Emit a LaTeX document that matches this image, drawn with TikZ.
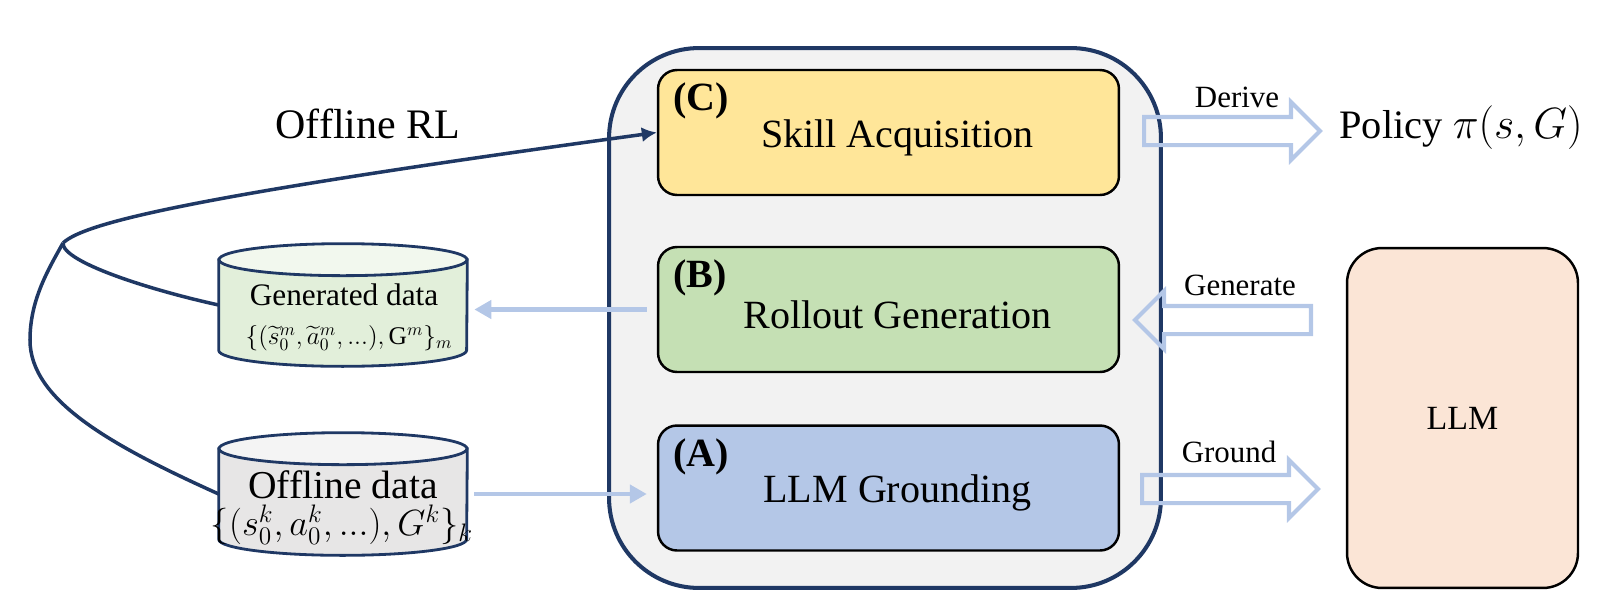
\documentclass[tikz,border=0pt]{standalone}
\usepackage{amsmath}
\usepackage{fontspec}
\setmainfont{Liberation Serif}
\usetikzlibrary{shapes.geometric,shapes.arrows,arrows.meta,positioning}

\definecolor{navy}{RGB}{31,56,100}
\definecolor{skillfill}{RGB}{255,230,153}
\definecolor{rolloutfill}{RGB}{197,224,180}
\definecolor{groundfill}{RGB}{180,199,231}
\definecolor{llmfill}{RGB}{251,229,214}
\definecolor{panelfill}{RGB}{242,242,242}
\definecolor{flowblue}{RGB}{180,199,231}
\definecolor{genfill}{RGB}{226,239,218}
\definecolor{offfill}{RGB}{231,230,230}

\begin{document}
\begin{tikzpicture}[
  x=0.02cm, y=-0.02cm,
  panel/.style={rectangle,draw=navy,line width=2.3pt,rounded corners=1.8cm,fill=panelfill,minimum width=11.04cm,minimum height=10.8cm},
  stage/.style={rectangle,draw=black,line width=1.4pt,rounded corners=0.38cm,minimum width=9.22cm,minimum height=2.5cm},
  tag/.style={font=\fontsize{22.8}{26}\selectfont\bfseries,inner sep=0pt},
  title/.style={font=\fontsize{22.8}{26}\selectfont,inner sep=0pt},
  storebox/.style={rectangle,minimum width=4.96cm,minimum height=2.44cm,inner sep=0pt},
  storeline/.style={draw=navy,line width=1.6pt},
  hollow/.style={single arrow,draw=flowblue,line width=2.3pt,minimum height=3.52cm,minimum width=1.08cm,single arrow head extend=0.3cm,single arrow tip angle=90,inner sep=0.24cm},
  flow/.style={draw=flowblue,line width=2.6pt,-{Triangle[length=0.34cm,width=0.36cm]}},
  rl/.style={draw=navy,line width=2pt},
  lbl/.style={font=\fontsize{17.6}{20}\selectfont,inner sep=0pt}
]
\useasboundingbox (0,0) rectangle (1622,602);

% central panel with the three stages
\node[panel] (panel) at (885,318) {};
\node[stage,fill=skillfill] (skill) at (888.5,132.5) {};
\node[stage,fill=rolloutfill] (rollout) at (888.5,309.5) {};
\node[stage,fill=groundfill] (grounding) at (888.5,488) {};
\node[tag, below right=0.28cm and 0.32cm of skill.north west] (tagC) {(C)};
\node[tag, below right=0.28cm and 0.32cm of rollout.north west] (tagB) {(B)};
\node[tag, below right=0.28cm and 0.32cm of grounding.north west] (tagA) {(A)};
\node[title] (skillT) at ([shift={(9,5)}]skill.center) {Skill Acquisition};
\node[title] (rolloutT) at ([shift={(9,5)}]rollout.center) {Rollout Generation};
\node[title] (groundingT) at ([shift={(9,5)}]grounding.center) {LLM Grounding};

% right side
\node[stage,fill=llmfill,rounded corners=0.7cm,minimum width=4.62cm,minimum height=6.8cm,font=\fontsize{19.3}{22}\selectfont] (llm) at (1462.5,418) {LLM};
\node[font=\fontsize{23}{27}\selectfont,inner sep=0pt] (policy) at (1461,128) {Policy $\pi(s,G)$};
\node[hollow,anchor=tail] (derive) at (1142,131) {};
\node[hollow,anchor=tail,shape border rotate=180] (generate) at (1313,320) {};
\node[hollow,anchor=tail] (ground) at (1140,489) {};
\node[lbl] (deriveL) at (1237,97) {Derive};
\node[lbl] (generateL) at (1240,285) {Generate};
\node[lbl] (groundL) at (1229,452) {Ground};

% data stores (cylinders drawn on named boxes)
\node[storebox] (gen) at (343,305) {};
\node[storebox] (off) at (343,494) {};
\draw[storeline,fill=genfill] ([yshift=-0.32cm]gen.north west) -- ([yshift=0.32cm]gen.south west)
  arc[start angle=180,end angle=360,x radius=2.48cm,y radius=0.32cm] -- ([yshift=-0.32cm]gen.north east) -- cycle;
\draw[storeline,fill=genfill!45] ([yshift=-0.32cm]gen.north) ellipse[x radius=2.48cm,y radius=0.32cm];
\draw[storeline,fill=offfill] ([yshift=-0.32cm]off.north west) -- ([yshift=0.32cm]off.south west)
  arc[start angle=180,end angle=360,x radius=2.48cm,y radius=0.32cm] -- ([yshift=-0.32cm]off.north east) -- cycle;
\draw[storeline,fill=offfill!45] ([yshift=-0.32cm]off.north) ellipse[x radius=2.48cm,y radius=0.32cm];
\node[font=\fontsize{17.8}{21}\selectfont,inner sep=0pt] (genT) at (344,295) {Generated data};
\node[font=\fontsize{14.5}{17}\selectfont,inner sep=0pt] (genF) at (349,338)
  {$\{(\widetilde{s}{}^{m}_{0},\widetilde{a}{}^{m}_{0},...),\mathrm{G}^{m}\}_{m}$};
\node[font=\fontsize{22.5}{26}\selectfont,inner sep=0pt] (offT) at (343,485) {Offline data};
\node[font=\fontsize{19.3}{23}\selectfont,inner sep=0pt] (offF) at (342,525)
  {$\{(s^{k}_{0},a^{k}_{0},...),G^{k}\}_{k}$};

% offline RL bracket
\node[font=\fontsize{23.9}{28}\selectfont,inner sep=0pt] (rlL) at (368,124) {Offline RL};
\coordinate (fork) at (63,243);
\draw[rl] (gen.west) .. controls (150,290) and (62,262) .. (fork);
\draw[rl] (off.west) .. controls (110,445) and (30,400) .. (30,340) .. controls (30,300) and (48,270) .. (fork);
\draw[rl,-{Latex[length=0.3cm,width=0.3cm]}] (fork) .. controls (85,222) and (200,195) .. (skill.west);

% data flow
\draw[flow,shorten <=0.2cm,shorten >=0.14cm] (rollout.west) -- (rollout.west -| gen.east);
\draw[flow,shorten <=0.14cm,shorten >=0.2cm] (off.east) -- (off.east -| grounding.west);
\end{tikzpicture}
\end{document}
